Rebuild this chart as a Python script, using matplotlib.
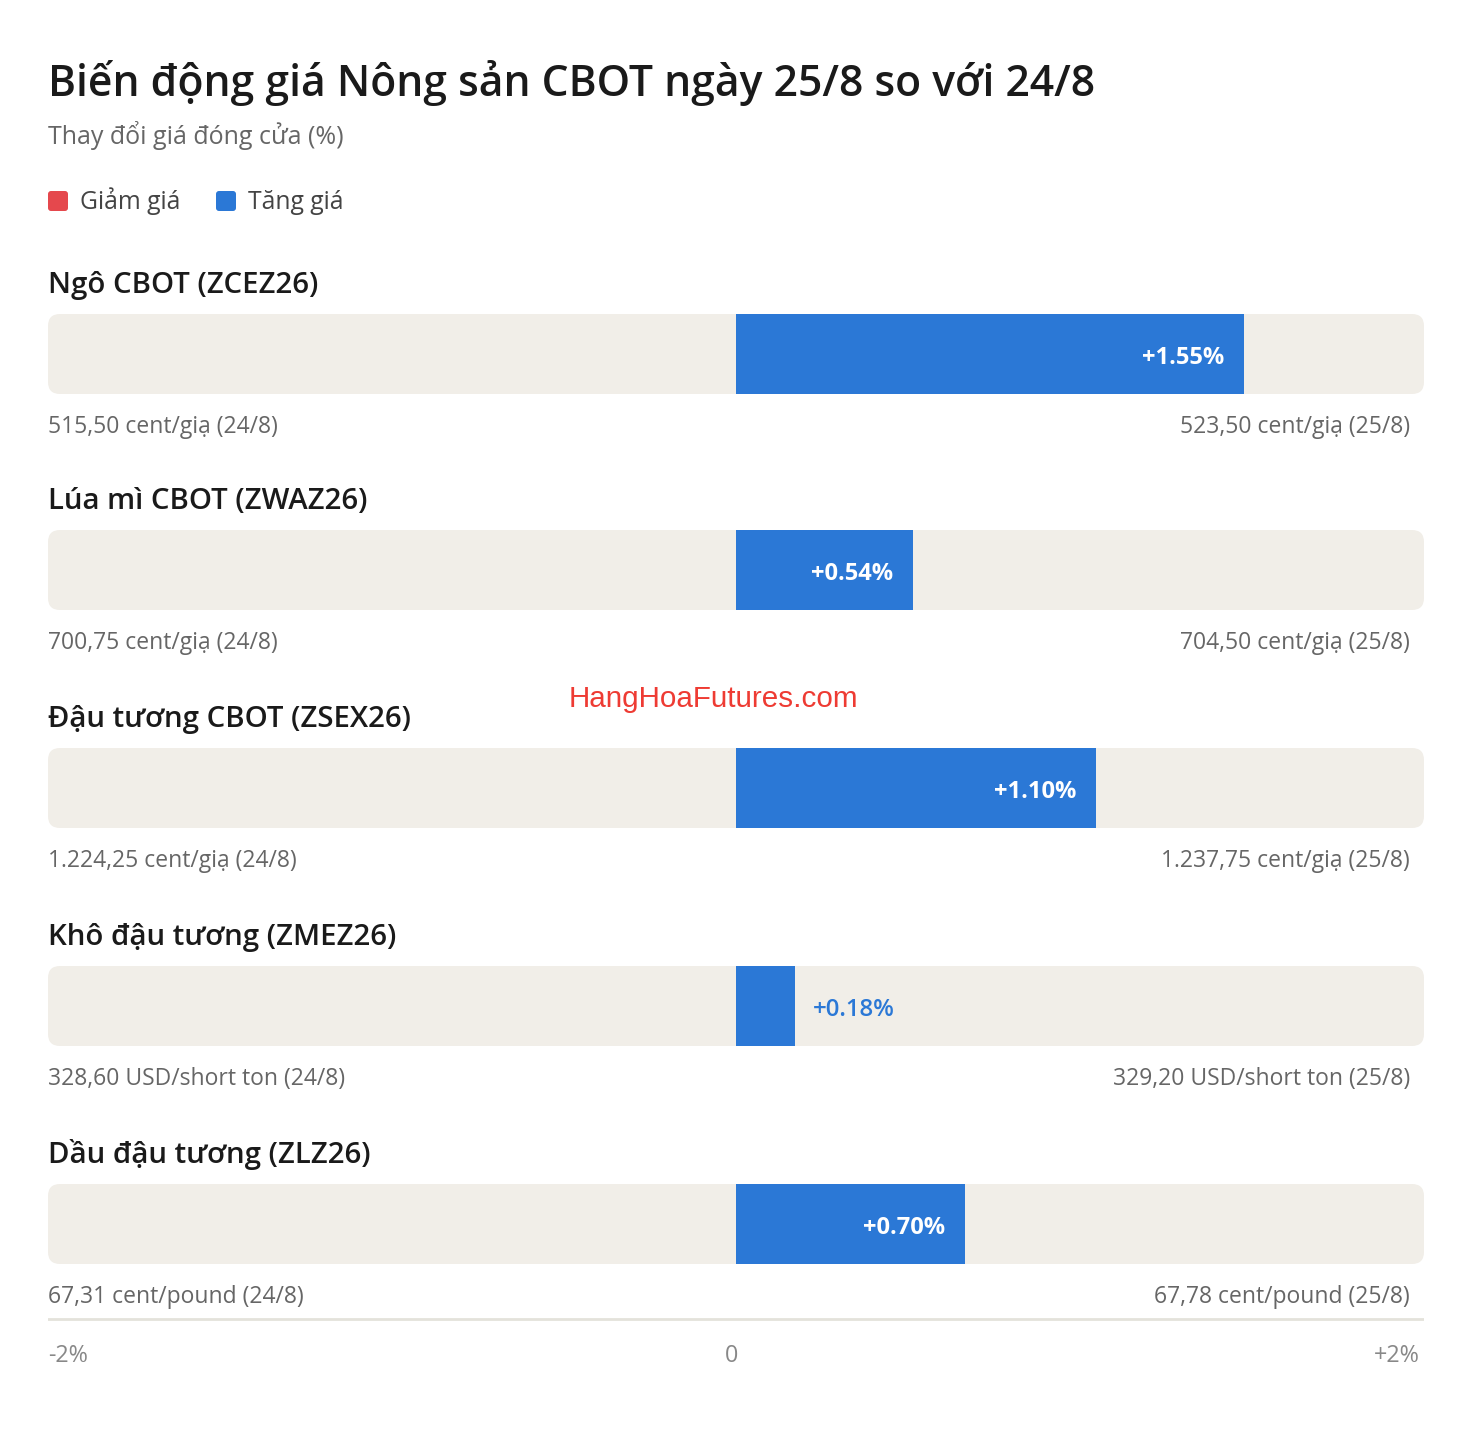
import matplotlib
matplotlib.use('Agg')
import matplotlib.pyplot as plt
from matplotlib.patches import FancyBboxPatch
from matplotlib.transforms import IdentityTransform

# Data
names = ["Ngô CBOT (ZCEZ26)", "Lúa mì CBOT (ZWAZ26)", "Đậu tương CBOT (ZSEX26)",
         "Khô đậu tương (ZMEZ26)", "Dầu đậu tương (ZLZ26)"]
changes = [1.55, 0.54, 1.10, 0.18, 0.70]
prev_prices = ["515,50 cent/giạ (24/8)", "700,75 cent/giạ (24/8)", "1.224,25 cent/giạ (24/8)",
               "328,60 USD/short ton (24/8)", "67,31 cent/pound (24/8)"]
curr_prices = ["523,50 cent/giạ (25/8)", "704,50 cent/giạ (25/8)", "1.237,75 cent/giạ (25/8)",
               "329,20 USD/short ton (25/8)", "67,78 cent/pound (25/8)"]
axis_labels = ["-2%", "0", "+2%"]
xmax = 2.1

title = "Biến động giá Nông sản CBOT ngày 25/8 so với 24/8"
subtitle = "Thay đổi giá đóng cửa (%)"
legend_items = [("Giảm giá", "#E5484D"), ("Tăng giá", "#2B78D6")]

W, H = 1472, 1442
FONT = "Open Sans"
plt.rcParams['font.family'] = [FONT, 'DejaVu Sans']

BLUE = "#2B78D6"
TRACK = "#F1EEE8"
DARK = "#1A1A1A"
GREY = "#666666"

fig = plt.figure(figsize=(W / 100, H / 100), dpi=100)
fig.patch.set_facecolor('white')


def fx(px):
    return px / W


def fy(py):
    return 1 - py / H


# header
fig.text(fx(48), fy(96), title, fontsize=30.7, weight='semibold', color=DARK, va='baseline')
fig.text(fx(48), fy(144), subtitle, fontsize=18, color=GREY, va='baseline')
lx = [48, 216]
for (lab, col), x0 in zip(legend_items, lx):
    fig.add_artist(FancyBboxPatch((x0, H - 211), 20, 20,
                                  boxstyle="round,pad=0,rounding_size=3",
                                  transform=IdentityTransform(), fc=col, ec='none'))
    fig.text(fx(x0 + 32), fy(209), lab, fontsize=17.8, color='#444444', va='baseline')

# main axes: x in percent, y in pixels
ax = fig.add_axes([fx(48), 0, fx(1376), 1])
ax.set_xlim(-xmax, xmax)
ax.set_ylim(H, 0)
ax.axis('off')

unit = 1376 / (2 * xmax)  # px per percent
track_tops = [314, 530, 748, 966, 1184]
bar_h = 80

for name, ch, p0, p1, top in zip(names, changes, prev_prices, curr_prices, track_tops):
    ax.add_patch(FancyBboxPatch((-xmax, top), 2 * xmax, bar_h,
                                boxstyle=f"round,pad=0,rounding_size={12 / unit}",
                                mutation_aspect=unit, fc=TRACK, ec='none', zorder=1))
    col = BLUE if ch >= 0 else "#E5484D"
    ax.barh(top + bar_h / 2, ch, left=0, height=bar_h, color=col, zorder=2)
    lab = f"+{ch:.2f}%" if ch >= 0 else f"{ch:.2f}%"
    if abs(ch) * unit > 100:
        ax.text(ch - 20 / unit, top + bar_h / 2 + 4, lab, ha='right', va='center',
                fontsize=17, weight='bold', color='white', zorder=3)
    else:
        ax.text(ch + 18 / unit, top + bar_h / 2 + 4, lab, ha='left', va='center',
                fontsize=17.3, weight='semibold', color=BLUE, zorder=3)
    ax.text(-xmax, top - 21, name, ha='left', va='baseline', fontsize=21.2,
            weight='semibold', color=DARK)
    ax.text(-xmax, top + 119, p0, ha='left', va='baseline', fontsize=16.5, color=GREY)
    ax.text(xmax - 14 / unit, top + 119, p1, ha='right', va='baseline', fontsize=16.5, color=GREY)

# watermark
fig.text(fx(713), fy(699), "HangHoaFutures.com", fontsize=21.3, color='#EE3B33',
         family='Liberation Sans', ha='center', va='center')

# bottom axis
ax.axhline(1319, color='#E4E2DB', lw=2)
ax.text(-xmax, 1362, axis_labels[0], ha='left', va='baseline', fontsize=16.8, color='#888888')
ax.text(-4 / unit, 1362, axis_labels[1], ha='center', va='baseline', fontsize=16.8, color='#888888')
ax.text(xmax - 4 / unit, 1362, axis_labels[2], ha='right', va='baseline', fontsize=16.8, color='#888888')

fig.savefig('out.png', dpi=100, facecolor='white')
